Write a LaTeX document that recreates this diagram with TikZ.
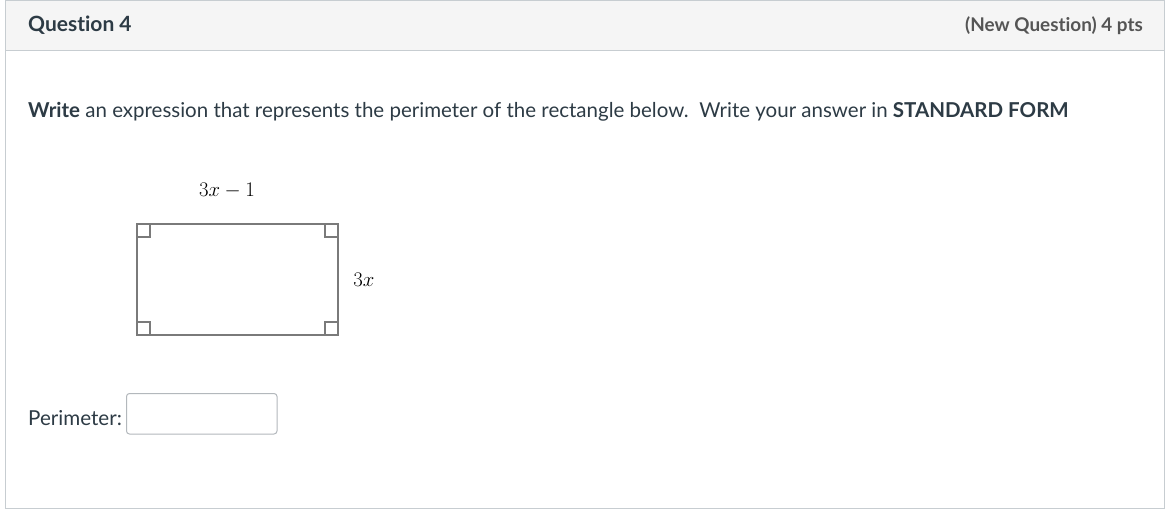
\documentclass[tikz,border=0pt]{standalone}
\usepackage{fontspec}
\setmainfont[Ligatures=NoCommon]{Lato}
\usepackage{amsmath}
\definecolor{frame}{HTML}{C7CDD1}
\definecolor{headbg}{HTML}{F5F5F5}
\definecolor{ink}{HTML}{2D3B45}
\definecolor{subink}{HTML}{555555}
\definecolor{rectline}{HTML}{7A7A7A}
\tikzset{
  txt/.style={inner sep=0pt, anchor=base west, text=ink},
  mathlbl/.style={inner sep=0pt, font=\fontsize{21}{24}\selectfont, text=black},
  corner/.style={draw=rectline, line width=1.2pt},
}
\begin{document}
\begin{tikzpicture}[x=1pt,y=-1pt]
\useasboundingbox (0,0) rectangle (1166,509);
% frame and header
\fill[white] (0,0) rectangle (1166,509);
\fill[headbg] (5,0) rectangle (1165,50);
\draw[frame, line width=1.2pt] (5.5,0) -- (5.5,508.5) -- (1164.5,508.5) -- (1164.5,0);
\draw[frame, line width=1.2pt] (5.5,0.5) -- (1164.5,0.5);
\draw[frame, line width=1.2pt] (5.5,50.5) -- (1164.5,50.5);
\node[txt, font=\fontsize{21}{24}\selectfont\bfseries] (q) at (28,31) {Question 4};
\node[inner sep=0pt, anchor=base east, text=subink, font=\fontsize{18.9}{22}\selectfont\bfseries] (pts) at (1143,31) {(New Question) 4 pts};
% prompt
\node[txt, font=\fontsize{20.5}{24}\selectfont] (prompt) at (28,117) {\textbf{Write} an expression that represents the perimeter of the rectangle below.\ \ Write your answer in \textbf{STANDARD FORM}};
% rectangle
\coordinate (tl) at (137,224);
\coordinate (br) at (338,335);
\draw[draw=rectline, line width=1.8pt] (tl) rectangle (br);
\draw[corner] (137,237) -- (150,237) -- (150,224);
\draw[corner] (325,224) -- (325,237) -- (338,237);
\draw[corner] (137,322) -- (150,322) -- (150,335);
\draw[corner] (325,335) -- (325,322) -- (338,322);
\node[mathlbl] (top) at (227,191) {$3x-1$};
\node[mathlbl] (side) at (364,280) {$3x$};
% answer
\node[txt, font=\fontsize{20.6}{24}\selectfont] (per) at (28,425) {Perimeter:};
\draw[draw=frame!90!black, line width=1pt, rounded corners=3pt, fill=white] (126.5,393.5) rectangle (277,434) node[coordinate] (box) {};
\end{tikzpicture}
\end{document}
